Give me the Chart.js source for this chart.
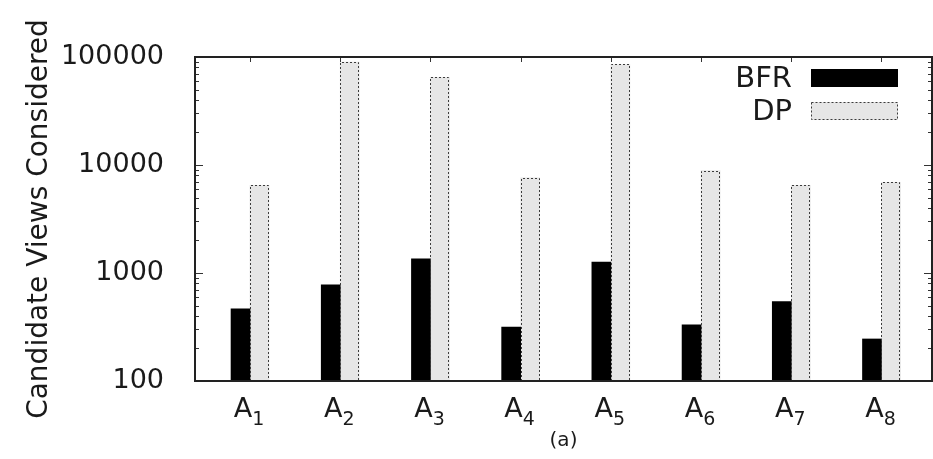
<!DOCTYPE html>
<html>
<head>
<meta charset="utf-8">
<script src="https://cdn.jsdelivr.net/npm/chart.js@4.4.1/dist/chart.umd.min.js"></script>
<style>
  html, body { margin: 0; padding: 0; background: #ffffff; }
  #wrap { width: 933px; height: 459px; }
</style>
</head>
<body>
<div id="wrap"><canvas id="chart" width="933" height="459"></canvas></div>
<script>
// Workloads on the x axis (letter + subscript index)
const categories = ['A1', 'A2', 'A3', 'A4', 'A5', 'A6', 'A7', 'A8'];
// Number of candidate views considered by each strategy
const bfrValues = [466, 777, 1355, 315, 1262, 331, 544, 245];
const dpValues = [6490, 89700, 64700, 7590, 85300, 8870, 6490, 6915];
const seriesNames = ['BFR', 'DP'];
// Logarithmic y axis labels
const yTickValues = [100, 1000, 10000, 100000];
const yTickLabels = ['100', '1000', '10000', '100000'];
const yTitle = 'Candidate Views Considered';
const xTitle = '(a)';

const FONT = '"DejaVu Sans", "Liberation Sans", sans-serif';
const INK = '#1a1a1a';
const DP_FILL = '#e6e6e6';
const DP_EDGE = '#3c3c3c';

// Frame, inner tick marks, dashed DP outlines, category labels and legend
const decorations = {
  id: 'decorations',
  afterDatasetsDraw(chart) {
    const { ctx, chartArea: a, scales: { x, y } } = chart;
    ctx.save();

    // dashed outline around each DP bar
    ctx.strokeStyle = DP_EDGE;
    ctx.lineWidth = 1;
    ctx.setLineDash([2, 2]);
    chart.getDatasetMeta(1).data.forEach(bar => {
      const p = bar.getProps(['x', 'y', 'base', 'width'], true);
      const l = Math.round(p.x - p.width / 2) + 0.5;
      const r = Math.round(p.x + p.width / 2) - 0.5;
      const t = Math.round(p.y) + 0.5;
      const b = Math.round(p.base);
      ctx.beginPath();
      ctx.moveTo(l, b); ctx.lineTo(l, t); ctx.lineTo(r, t); ctx.lineTo(r, b);
      ctx.stroke();
    });
    ctx.setLineDash([]);

    // tick marks pointing into the plot
    ctx.strokeStyle = '#333';
    ctx.lineWidth = 1;
    ctx.beginPath();
    const lo = yTickValues[0], hi = yTickValues[yTickValues.length - 1];
    for (let d = lo; d <= hi; d *= 10) {
      for (let k = 1; k <= 9; k++) {
        const v = d * k;
        if (v > hi) break;
        const py = Math.round(y.getPixelForValue(v)) + 0.5;
        const len = k === 1 ? 8 : 4;
        ctx.moveTo(a.left, py); ctx.lineTo(a.left + len, py);
        ctx.moveTo(a.right, py); ctx.lineTo(a.right - len, py);
      }
    }
    categories.forEach((_, i) => {
      const px = Math.round(x.getPixelForValue(i)) + 0.5;
      ctx.moveTo(px, a.top); ctx.lineTo(px, a.top + 5);
    });
    ctx.stroke();

    // plot frame
    ctx.strokeStyle = '#222';
    ctx.lineWidth = 2;
    ctx.strokeRect(a.left, a.top, a.right - a.left, a.bottom - a.top);

    // category labels with subscript index
    ctx.fillStyle = INK;
    ctx.textBaseline = 'alphabetic';
    ctx.textAlign = 'left';
    categories.forEach((label, i) => {
      const m = label.match(/^([^0-9]+)([0-9]*)$/);
      const main = m ? m[1] : label;
      const sub = m ? m[2] : '';
      ctx.font = '27px ' + FONT;
      const wMain = ctx.measureText(main).width;
      ctx.font = '19px ' + FONT;
      const wSub = ctx.measureText(sub).width;
      const px = x.getPixelForValue(i);
      const start = px - (wMain + wSub) / 2 - 1;
      ctx.font = '27px ' + FONT;
      ctx.fillText(main, start, a.bottom + 36);
      ctx.font = '19px ' + FONT;
      ctx.fillText(sub, start + wMain, a.bottom + 44);
    });

    // legend: label on the left, swatch on the right
    const boxL = a.right - 121, boxW = 87, boxH = 18;
    const rows = [a.top + 21, a.top + 54];
    ctx.font = '29px ' + FONT;
    ctx.textAlign = 'right';
    ctx.textBaseline = 'middle';
    seriesNames.forEach((name, i) => {
      const cy = rows[i];
      ctx.fillStyle = INK;
      ctx.fillText(name, boxL - 19, cy + 1);
      if (i === 0) {
        ctx.fillStyle = '#000';
        ctx.fillRect(boxL, cy - boxH / 2, boxW, boxH);
      } else {
        ctx.fillStyle = DP_FILL;
        ctx.fillRect(boxL, cy - boxH / 2, boxW, boxH);
        ctx.strokeStyle = DP_EDGE;
        ctx.lineWidth = 1;
        ctx.setLineDash([2, 2]);
        ctx.strokeRect(boxL + 0.5, Math.round(cy - boxH / 2) + 0.5, boxW - 1, boxH - 1);
        ctx.setLineDash([]);
      }
    });
    ctx.restore();
  }
};

new Chart(document.getElementById('chart'), {
  type: 'bar',
  data: {
    datasets: [
      {
        label: seriesNames[0],
        data: bfrValues.map((v, i) => ({ x: i, y: v })),
        backgroundColor: '#000000',
        borderWidth: 0,
        barThickness: 19
      },
      {
        label: seriesNames[1],
        data: dpValues.map((v, i) => ({ x: i, y: v })),
        backgroundColor: DP_FILL,
        borderWidth: 0,
        barThickness: 19
      }
    ]
  },
  options: {
    responsive: false,
    animation: false,
    devicePixelRatio: 1,
    layout: { padding: { top: 57, right: 1, bottom: 0, left: 0 } },
    plugins: {
      legend: { display: false },
      tooltip: { enabled: false }
    },
    scales: {
      x: {
        type: 'linear',
        min: -0.61,
        max: 7.56,
        offset: false,
        grid: { display: false, offset: false },
        border: { display: false },
        ticks: { display: false },
        title: {
          display: true,
          text: xTitle,
          color: INK,
          font: { family: FONT, size: 20 },
          padding: { top: 0, bottom: 6 }
        },
        afterFit(scale) { scale.height = 78; }
      },
      y: {
        type: 'logarithmic',
        min: yTickValues[0],
        max: yTickValues[yTickValues.length - 1],
        grid: { display: false },
        border: { display: false },
        afterBuildTicks(scale) {
          scale.ticks = yTickValues.map(v => ({ value: v, major: true }));
        },
        ticks: {
          color: INK,
          font: { family: FONT, size: 27 },
          padding: 23,
          callback(value) {
            const idx = yTickValues.indexOf(value);
            return idx >= 0 ? yTickLabels[idx] : '';
          }
        },
        title: {
          display: true,
          text: yTitle,
          color: INK,
          font: { family: FONT, size: 28 },
          padding: { top: 23, bottom: 0 }
        },
        afterFit(scale) { scale.width = 195; }
      }
    }
  },
  plugins: [decorations]
});
</script>
</body>
</html>
